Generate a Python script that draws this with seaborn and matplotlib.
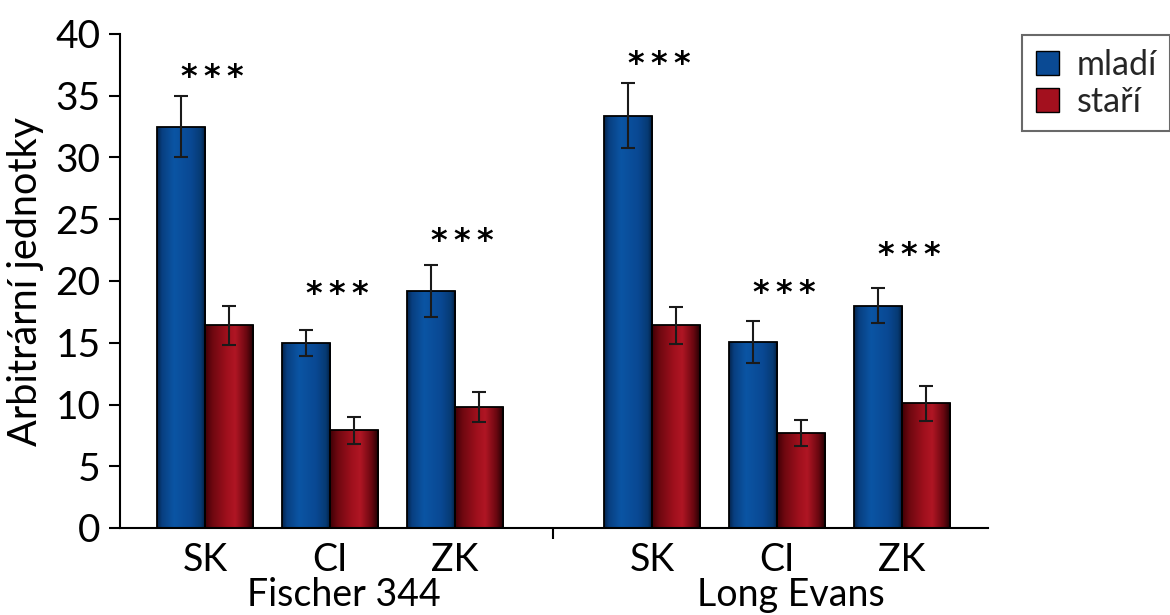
import numpy as np
import pandas as pd
import matplotlib
matplotlib.use("Agg")
import matplotlib.pyplot as plt
import seaborn as sns
from matplotlib.colors import LinearSegmentedColormap
from matplotlib.patches import Patch
import matplotlib.transforms as mtransforms

# ---------------- data ----------------
strains = ["Fischer 344", "Fischer 344", "Fischer 344", "Long Evans", "Long Evans", "Long Evans"]
regions = ["SK", "CI", "ZK", "SK", "CI", "ZK"]
young = [32.5, 15.0, 19.2, 33.4, 15.1, 18.0]
young_err = [2.5, 1.05, 2.1, 2.6, 1.7, 1.4]
old = [16.4, 7.9, 9.8, 16.4, 7.7, 10.1]
old_err = [1.6, 1.1, 1.2, 1.5, 1.05, 1.4]
stars = ["*\u2009*\u2009*"] * 6
age_labels = ["mladí", "staří"]
y_label = "Arbitrární jednotky"
y_ticks = [0, 5, 10, 15, 20, 25, 30, 35, 40]

# ---------------- layout ----------------
slot = [0.0, 1.0, 2.0, 3.575, 4.575, 5.575]
star_y = [36.5, 18.9, 23.2, 37.5, 19.0, 22.1]

sns.set_theme(style="white")
plt.rcParams["font.family"] = ["Lato", "DejaVu Sans"]

df = pd.DataFrame({
    "pos": slot * 2,
    "val": young + old,
    "age": [age_labels[0]] * 6 + [age_labels[1]] * 6,
})

fig = plt.figure(figsize=(11.7, 6.15), dpi=100)
ax = fig.add_axes([120 / 1170, 1 - 528 / 615, (988 - 120) / 1170, (528 - 34) / 615])

base_cols = {age_labels[0]: "#0a4a94", age_labels[1]: "#a3101e"}
sns.barplot(data=df, x="pos", y="val", hue="age", native_scale=True, width=0.77,
            palette=base_cols, edgecolor="black", linewidth=1.3, errorbar=None,
            legend=False, ax=ax, saturation=1)

cmaps = {
    age_labels[0]: LinearSegmentedColormap.from_list("bl", [
        (0.0, "#04224a"), (0.1, "#083f80"), (0.35, "#0b55a4"), (0.7, "#094893"),
        (0.9, "#063a73"), (1.0, "#021a38")]),
    age_labels[1]: LinearSegmentedColormap.from_list("rd", [
        (0.0, "#3e0005"), (0.15, "#6e0810"), (0.45, "#a0101d"), (0.62, "#b01624"),
        (0.85, "#6a0710"), (1.0, "#1a0002")]),
}
grad = np.linspace(0, 1, 256).reshape(1, -1)

patches = sorted(ax.patches, key=lambda p: p.get_x())
errs = []
ages = []
for ye, oe in zip(young_err, old_err):
    errs += [ye, oe]
    ages += age_labels
for p, e, a in zip(patches, errs, ages):
    x0, w, h = p.get_x(), p.get_width(), p.get_height()
    im = ax.imshow(grad, cmap=cmaps[a], extent=(x0, x0 + w, 0, h), aspect="auto",
                   zorder=p.get_zorder() - 0.05, interpolation="bicubic")
    im.set_clip_path(p)
    p.set_facecolor("none")
    ax.errorbar(x0 + w / 2, h, yerr=e, fmt="none", ecolor="#1a1a1a",
                elinewidth=1.5, capsize=5, capthick=1.5, zorder=5)

# stars
for i in range(6):
    ax.text(slot[i] + 0.06, star_y[i], stars[i], ha="center", va="center",
            fontsize=23, fontweight="bold", color="black", zorder=6,
            family=["DejaVu Sans"])

ax.set_xlim(-0.68, 6.264)
ax.set_ylim(0, 40)
ax.set_yticks(y_ticks)
ax.set_yticklabels([str(t) for t in y_ticks], fontsize=28)
ax.tick_params(axis="y", which="both", left=True, length=8, width=1.5, color="black",
               pad=6, labelcolor="black")

ax.set_xticks(slot)
ax.set_xticklabels(regions, fontsize=27, color="black")
ax.tick_params(axis="x", which="major", bottom=False, length=0, pad=10)
ax.set_xticks([(slot[2] + slot[3]) / 2], minor=True)
ax.tick_params(axis="x", which="minor", bottom=True, length=8, width=1.5, color="black")
ax.set_xlabel("")

ax.set_ylabel(y_label, fontsize=28.5, color="black", labelpad=8)

for s in ["top", "right"]:
    ax.spines[s].set_visible(False)
for s in ["left", "bottom"]:
    ax.spines[s].set_color("black")
    ax.spines[s].set_linewidth(1.5)

trans = mtransforms.blended_transform_factory(ax.transData, fig.transFigure)
for grp, idx in [("Fischer 344", [0, 1, 2]), ("Long Evans", [3, 4, 5])]:
    cx = np.mean([slot[i] for i in idx]) + 0.11
    ax.text(cx, 1 - 606 / 615, grp, transform=trans, ha="center", va="baseline",
            fontsize=27, color="black")

handles = [Patch(facecolor=base_cols[a], edgecolor="black", linewidth=1.0) for a in age_labels]
leg = fig.legend(handles, age_labels, loc="upper left",
                 bbox_to_anchor=(1022 / 1170, 1 - 35 / 615), frameon=True,
                 fancybox=False, fontsize=24.5, handlelength=0.7, handleheight=0.7,
                 handletextpad=0.5, labelspacing=0.15, borderpad=0.4,
                 borderaxespad=0)
leg.get_frame().set_edgecolor("#444444")
leg.get_frame().set_linewidth(1.5)

fig.savefig("out.png", dpi=100)
